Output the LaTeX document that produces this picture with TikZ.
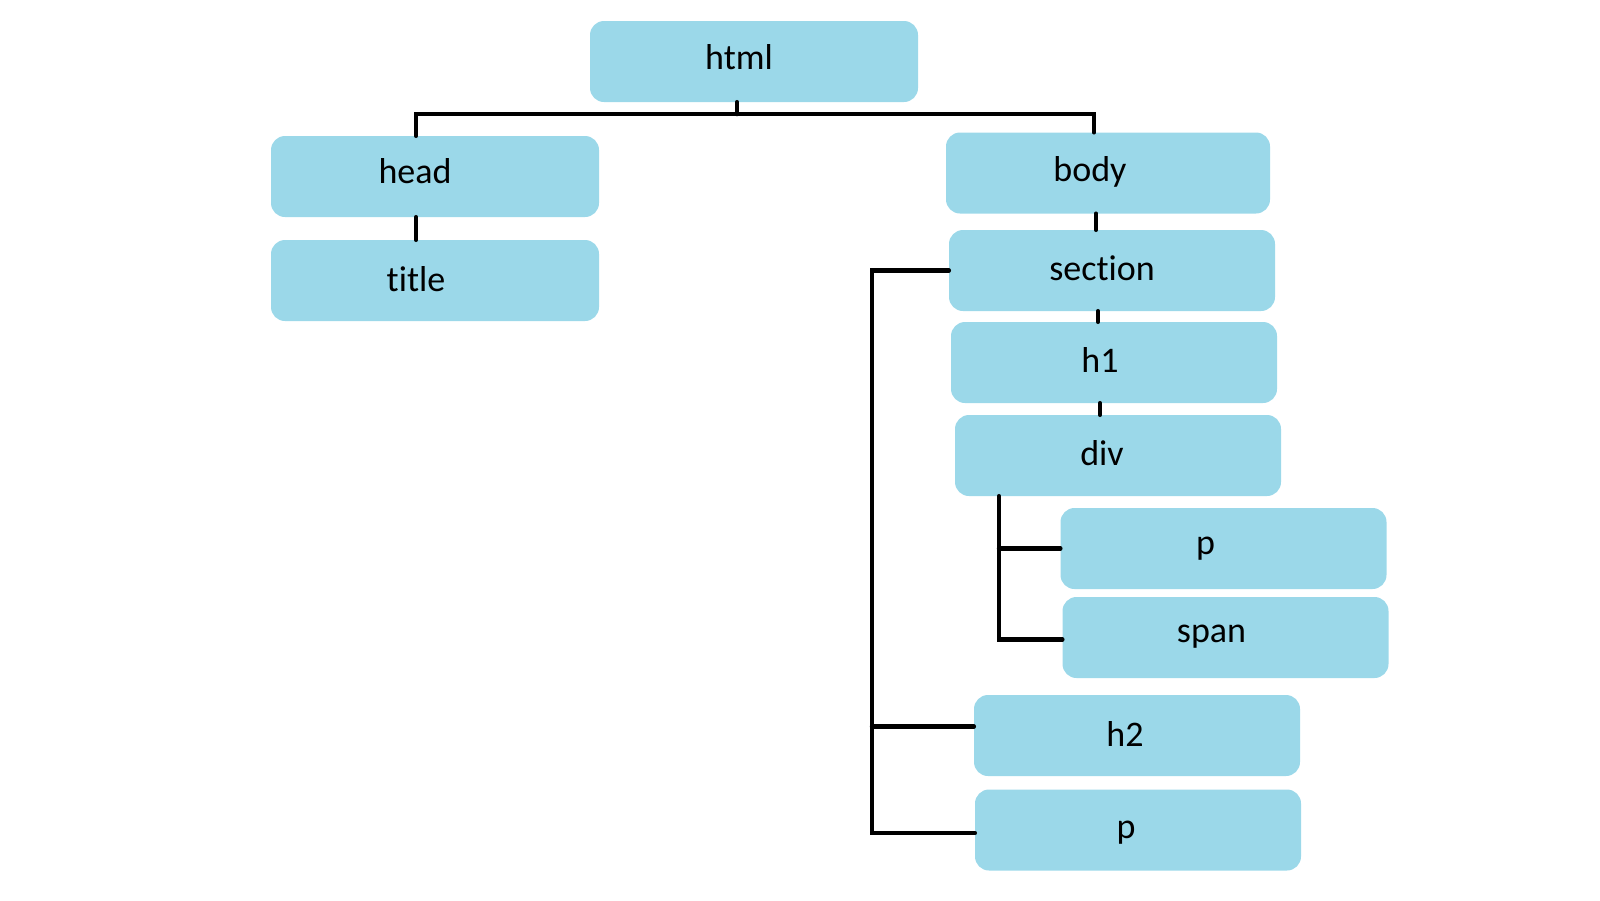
\documentclass[tikz,border=0pt]{standalone}
\usepackage{fontspec}
\setmainfont{Carlito}[Ligatures={NoCommon,NoContextual}]
\definecolor{boxc}{RGB}{155,216,233}
\begin{document}
\begin{tikzpicture}[x=1pt,y=-1pt,
  box/.style={fill=boxc, draw=none, rounded corners=14pt, minimum height=81pt, inner sep=0pt},
  lbl/.style={font=\fontsize{36}{42}\selectfont, text=black, inner sep=0pt, text height=0pt, text depth=0pt},
  conn/.style={line width=4.5pt, line cap=round, line join=miter, black}]
\useasboundingbox (0,0) rectangle (1600,900);
% nodes
\node[box, minimum width=328pt, label={[lbl,xshift=-15pt,yshift=-7.5pt]center:html}] (html) at (754,61.5) {};
\node[box, minimum width=328pt, label={[lbl,xshift=-20pt,yshift=-6.5pt]center:head}] (head) at (435,176.5) {};
\node[box, minimum width=328pt, label={[lbl,xshift=-19pt,yshift=-11pt]center:title}] (title) at (435,280.5) {};
\node[box, minimum width=324pt, label={[lbl,xshift=-18pt,yshift=-8pt]center:body}] (body) at (1108,173) {};
\node[box, minimum width=326pt, label={[lbl,xshift=-10pt,yshift=-9.5pt]center:section}] (section) at (1112,270.5) {};
\node[box, minimum width=326pt, label={[lbl,xshift=-14pt,yshift=-9.5pt]center:h1}] (h1) at (1114,362.5) {};
\node[box, minimum width=326pt, label={[lbl,xshift=-16pt,yshift=-9.5pt]center:div}] (div) at (1118,455.5) {};
\node[box, minimum width=326pt, label={[lbl,xshift=-18pt,yshift=-6pt]center:p}] (p1) at (1223.5,548.5) {};
\node[box, minimum width=326pt, label={[lbl,xshift=-14pt,yshift=-5pt]center:span}] (span) at (1225.5,637.5) {};
\node[box, minimum width=326pt, label={[lbl,xshift=-12pt,yshift=-11pt]center:h2}] (h2) at (1137,735.5) {};
\node[box, minimum width=326pt, label={[lbl,xshift=-12pt,yshift=-8pt]center:p}] (p2) at (1138,830) {};
% helper coordinates
\coordinate (bus) at (737,114);
\coordinate (spine) at (872,0);
\coordinate (divspine) at (999,0);
% connectors
\draw[conn] ([xshift=-17pt]html.south) -- (bus);
\draw[conn] ([xshift=-19pt]head.north) |- (bus) -| ([xshift=-14pt]body.north);
\draw[conn] ([xshift=-19pt]head.south) -- ([xshift=-19pt]title.north);
\draw[conn] ([xshift=-12pt]body.south) -- ([xshift=-16pt]section.north);
\draw[conn] ([xshift=-14pt]section.south) -- ([xshift=-16pt]h1.north);
\draw[conn] ([xshift=-14pt]h1.south) -- ([xshift=-18pt]div.north);
\draw[conn] (section.west) -| ([yshift=-3pt]p2.west -| spine) -- ([yshift=-3pt]p2.west);
\draw[conn] ([yshift=9pt]h2.west -| spine) -- ([yshift=9pt]h2.west);
\draw[conn] (div.south -| divspine) |- ([yshift=-2pt]span.west);
\draw[conn] (p1.west -| divspine) -- (p1.west);
\end{tikzpicture}
\end{document}
